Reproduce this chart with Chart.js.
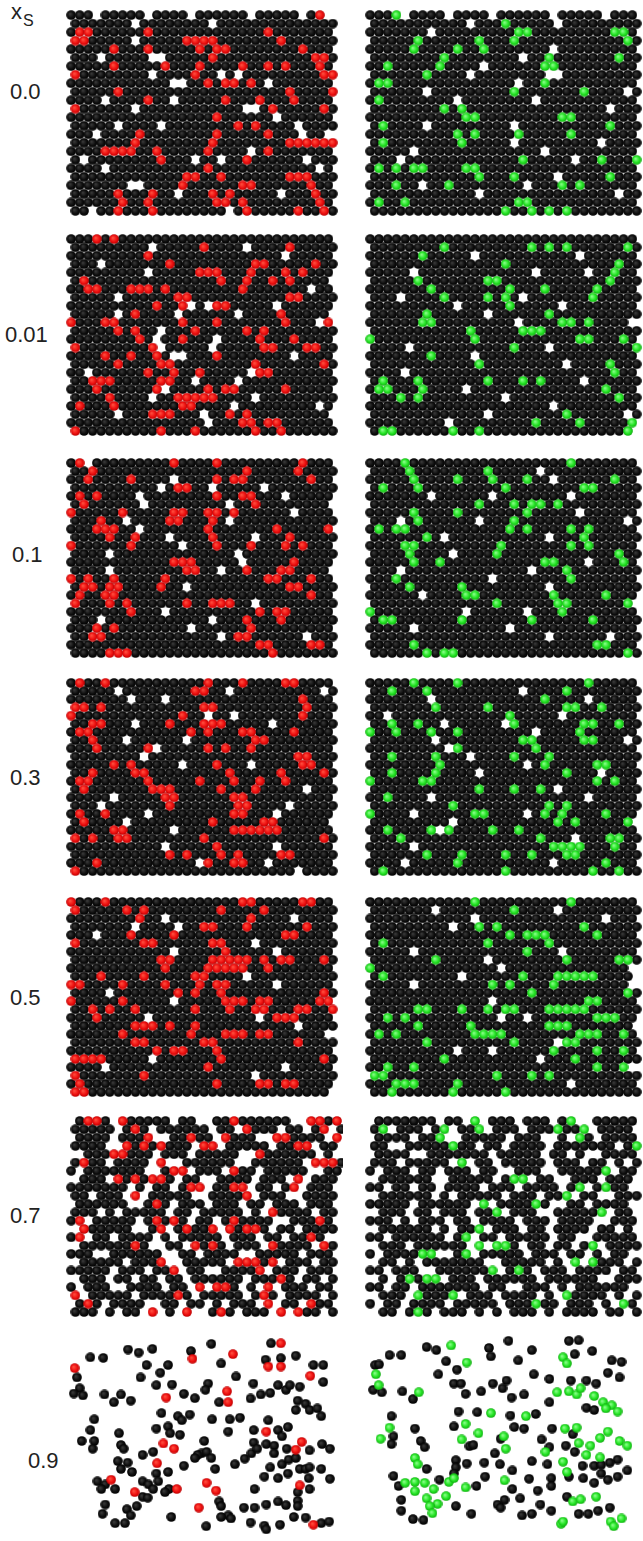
<!DOCTYPE html>
<html>
<head>
<meta charset="utf-8">
<script src="https://cdn.jsdelivr.net/npm/chart.js@4.4.1/dist/chart.umd.min.js"></script>
<style>
html, body { margin:0; padding:0; background:#fff; width:643px; height:1541px; overflow:hidden; position:relative;
  font-family:"Liberation Sans", Arial, sans-serif; }
.lbl { position:absolute; font-size:22px; line-height:22px; color:#222; white-space:nowrap; }
canvas { position:absolute; }
</style>
</head>
<body>
<script>
// ───────────────────────── DATA ─────────────────────────
// row labels (x_S values)
const rowLabels = ["0.0", "0.01", "0.1", "0.3", "0.5", "0.7", "0.9"];

// dense panels: one string per particle row, 'o' = black, 'x' = coloured, '.' = hole
const gridL0 = [
"ooo.ooooo.oooo.oooooo.ooooo.ox.",
"ooooooo.oooooooo.oooooooooooooo",
"oxxooooooxoooooooooooooxooooooo",
"xxooooo.oooooxxxxoooooooxoooooo",
"oooooxoooxoooooxoxxooooooooxooo",
"ooo.ooooo..oooooxoooooooooooxxo",
"oooooxoooooxoooxooooxooxoxoooxo",
"xoooooooo.ooooxoo.o.oooooooooxx",
"oooooooooooo..ooxoxxoxo.ooooooo",
"oooooxoooooooooooooooooooxoooox",
"oooo.ooooxoo.oooooxoooxoooxoooo",
"xoooooo.oooooooooooo..oxoooooxo",
"oooooooooooooooooxoooooo.oooooo",
"ooooo.oooo.ooooooooxoxoooo.oooo",
"ooo.ooooxooooooooxoooooxooo.oo.",
"oooooooxooooooooxooooooooxxxxxx",
"ooooxxxxooxoooooxoooo.oxooooooo",
"o.ooooooooxooo.oo.ooxoooooo.ooo",
"oooo.oooooooooooxoooooooooooo.o",
"oooooooooooooxxooxoooooooxxxooo",
"ooooooo..ooooxooooooxxooooooxoo",
"oooooxoooxoo.oooxoxooooo.oooxoo",
"ooooooxooxoooooooxxoxooooooooxo",
"oo.ooxoooxoooooooo.oxoooooxooxo"];
const gridR0 = [
"ooox.oooo.oooo.oooooo.ooooo.ooo",
"ooooooooooo.oooxooooo.ooooooooo",
"ooooooo.oooooooooxxoooooooooxxo",
"oooooxooooooxoooxooooooooooooxo",
"oooooxooooxooxooooooo.ooooooooo",
"ooooooooxoooooooo.ooxoooooooxoo",
"ooxoooooxoooo.ooooooxxooooooooo",
"ooooooxoooo.oooooooo..ooooooooo",
"oxxoooooooooooooo.ooxoooooooooo",
"oooooo.oooooooooxoooooooxoooo.o",
"oxoooooooo.oooooooo.ooooooooooo",
"ooooooooxoxoooooooooooooooo.ooo",
"oooooooooooxxoooooooooxxooooooo",
"oxoooo.ooooooooo.ooooooooooxooo",
"ooooooooooxoxooooxoooooxooooooo",
"oxooooooooxooooo.ooooooooo.oooo",
"ooooo.oooooooooooooo.oooooooooo",
"ooo.oooooooooooooxooooo.ooxooox",
"oxoxoxxooooxxoooooooooooooooooo",
"ooooooooooooxoooxoooo.oooooxooo",
"oooxoo.ooxoooooooo.oooxoxoooooo",
"oooooooooooo.ooooooooooooooo.oo",
"oxooxooooooooooooxxoooooooooooo",
"oooooooooooooooxooxoxoxoooooooo"];
const gridL1 = [
"oooxoxooooooooooooooooooooooooo",
"ooooooooo.oooooxoooo.ooooxooooo",
"oooooooooxooooooooooooooo.ooooo",
"ooo.oooooooxoooooooooxxoooooxoo",
"ooooooooo.oooooxxxoooxoooxoxooo",
"oxoooooooooooooooxooxooxoxoooo.",
"ooxxoooxxxoxooooooooxooooooo.oo",
"ooooo.ooooooxxoooooooooooxxoooo",
"ooooooooooxoox.o.xxooooo.oooooo",
"ooooo.oxoooo.oooooo.ooooxooooo.",
"xoooxxoooooooxoooxoooooooxooo.x",
"oooooxoxoo.oooxoooooxoxoooooooo",
"ooooooooxo.ooxooo.ooooxoooxoooo",
"xoooooooox.ooooo.oooooxxoooxxoo",
"ooooxooxooxo..oooxoooooooo.oooo",
"oooooxooooxxoooooooooxoooooooxo",
"oo.ooooooxooxooxooooo.xxooooooo",
"ooxxxoooooxxoo.oooo.ooooooooooo",
"oooxoooooox.ooooxoxxoooooxooooo",
"ooooxoooo.ooxxxxxoooo.ooooooooo",
"oxoooxoooooooxxoooo.ooooooooo.o",
"ooooo.oooxxxooo.ooxoxooooooooo.",
"oooooooooooooooo.oooxxoxxoooooo",
"xoooooooooxoooxooooooxooxoooooo"];
const gridR1 = [
"ooooooooooooooooooooooooooooooo",
"ooooooooxoooooooooxoxoxooooooxo",
"ooooooxooooo.ooooooooooo.oooooo",
"oooooooooooooooxooooooooooooxoo",
"ooooo.ooooooooooooo.ooooo.ooxoo",
"oooooxoooooooxxooooooooooooxooo",
"oooooooxooooooooxoooxoooooxoooo",
"ooo.ooooxooooxoxo.oooooooxooooo",
"oooooooooo.oooooxooooo.oooooooo",
"ooooooxoooooo.ooooooxoooooooooo",
"ooooooxxooooooooo.ooooxxoxoooo.",
"oooooooooooxoooooxxxooooooooooo",
"xoooooooooooxoooooooooooxxoooxo",
"oooo.oooooooooooxooo.ooooooooox",
"oooooooxoooo.oooooooooooooooooo",
"ooooooooooooxooooooooo.ooooxooo",
"oooo.oooooooooooooooooooooooxoo",
"oxoooxoooooooxoooxoxoooo.oooooo",
"oxxoooxoooo.oooooooooooooooxooo",
"oooxoxooooooooo.ooooooooooooxoo",
"ooooooooooooooooooooo.ooooooooo",
"ooooooooooooo.ooooooooxoooooo.o",
"ooooooooo.oooooooooxooooxooooox",
"oxxooooooxooxoooooooooooooooox."];
const gridL2 = [
"ox.oooooooooxooooxoooooooooxooo",
"ooxoooooooooooooooooxoooooxoooo",
"ooxooooxoooo.ooooxoxxoooooooxoo",
"oooooooooo.oxxoo.ooooo.oooooooo",
"oxoxoooo.ooooooooxooxxooo.ooooo",
"oxoooooo.ooooooooo.ooxoooooooo.",
"xoooooxoooooxxooxxoxoooooo.oooo",
"oooxoo.ooooxxoooxo.oooooooooooo",
"oooxxxoo.oooooooxoooooooxooooox",
"ooooxooxooo.ooooxoooo.oooxooooo",
"xooooooxooooo.oooxoooxoooxoxooo",
"oooo.oooooooooooooo.ooooooooooo",
"ooooooooooooxxxooooo.oooooxoooo",
"oooo.ooooooooxxoo.ooxoooxxoooo.",
"xoxooxoooooxoooooooooooxxoooxoo",
"oxxoxxooooxoo.oooooooooooxxoooo",
"oxooxxooooooooooooooooooooooxoo",
"xoooxoxooooooxooxxxoo.ooooooooo",
"oooooooxooo.ooooooooooxoxxooooo",
"ooo.oooooooooooo.oooxoooxoooooo",
"oooxoxoooooooo.ooooooxooooooooo",
"ooxxooooooooooooo.oxxoooooo.ooo",
"ooooooooooooooooooooooxxooooxxo",
"ooooxxxooooooooooooooooxooooooo"];
const gridR2 = [
"ooooxooooooooooooooooooxooooooo",
"ooooxooooooooxooooo.ooooooooooo",
"oooooxooooxoooxoooxoo.ooooooxoo",
"oxoooxoooooooooxooooooooxxooooo",
"ooooooo.oooooo.oooooooo.ooooooo",
"ooooooooooooxoooxoxxoxooooooooo",
"oooooxooooxoooooooxooooo.oooooo",
"ooo.oxoooooo.oooxoooooooooooo.o",
"oxoxxoooooooooooxoxooooxoxooooo",
"ooooooxo.ooooooooooo.oooxoooooo",
"ooooxxoooooooooxoooooooxoxooooo",
"ooooxoooo.ooooxoooooooooooooxoo",
"oooooxooxoooooooooooxxooo.oooxo",
"ooo.oooooooooooooo.oooxoooooooo",
"oooxoooooooooo.ooooooooxooooooo",
"ooooxoooooxooooooooo.oooooooooo",
"oooooo.ooooxxooooooooxoooooxooo",
"ooooooooooooooxooooooxxoooooox.",
"xoooooooooo.oooooo.oooxoooooooo",
"oxxoooooooxoooooooxooooooxooooo",
"ooooo.oooooooooo.oooooooooooooo",
"oooooooooooooooooooo.oooooo.ooo",
"oooooxooooooooooooooooooooxxooo",
"ooooooxoxxoooooooooooooooooooxo"];
const gridL3 = [
"oxooxoooooooooooxoooxooooxxoooo",
"ooooo.ooooooooxxoo.oooooooooo.o",
"ooooooo.ooo.oooooooooooooooxooo",
"xxoxoooooooooooxxooooooooooxooo",
"xooooooooooooxoo.oo.oooooooxooo",
"ooxxooo.oooxoooxxxooooo.ooooooo",
"oxxoooooooooooxoxoooxxooooxoooo",
"ooxooo.oooooo.oooooooxxoooooooo",
"oooxooooox.oooooxoxooxooooooooo",
"oooooooo.oooooooooooooooooxxooo",
"oooooxoxooooo.oooxooo.oooooxxoo",
"ooxooooxxoooooooooxoooooxooooxo",
"oxxooooooxoooooxoooxooxooxooooo",
"oxoooooooxxxoooooxoooxooooo.ooo",
"ooooo.oooooxxooooooxxoooooooooo",
"ooo.oooooooxoooooooxxoooo.ooooo",
"oxooxoooo.oooooooooxxooo.oooooo",
"oxoooo.oooooooooxoooooxxoooooo.",
"oooooxxooooo.ooooooxxxxxxoooooo",
"xoxooxxooooooooxoooooooooooooxo",
"ooooooooooo.oooooxoooooo.oooooo",
"oooooooooooxoxoooxoxooooxxooooo",
"oooxooooooooooo.xooxxoo.ooooooo",
"xooooooooooooooooooooooooo.oooo"];
const gridR3 = [
"oooooxooooxooooooooooooooxooooo",
"ooxoooxoooooooooo.ooooxoooooooo",
"ooooooo.ooooooooooooxoooo.ooooo",
"oooooooxoooooxooooooooxxooxoooo",
"oo.oooooooooooooxooooo.oooooooo",
"ooxooxoo.oooooo.xoooooooxxooxoo",
"xooxoooxooxoooooooo.ooooxoooooo",
"ooooooo.oooooooooxxoooooxxooo.o",
"ooooooooo.xooooooooxooooooooooo",
"ooxooooxooo.ooooxoooxoooooooooo",
"ooooooooxooooooooo.oxoooooxxooo",
"ooxooooxoooo.oooooooooxooo.oooo",
"xoooooxxooooooooooooooooooxoxoo",
"ooooooooooooxoooxooxo.ooooooooo",
"ooxoooo.ooooooooooooooooo.ooooo",
"oooooooooxooooooooooxoxoooooooo",
"xoooo.ooooooxxoooo.oxoxooooxooo",
"ooooooooo.oooooooooooxoxooooox.",
"ooxoooox.xooooxooxooooooooooooo",
"oooxoooooooooooooooxooo.oooxxoo",
"ooooo.oooooooooooooooxxxxoooxoo",
"ooooooxoooxooooxooxoooxxooooooo",
"oooo.oooooxoooooooooo.oooooxooo",
"oxoooooooooooooxoooooooooxooxoo"];
const gridL4 = [
"xoooxoooooooooooooooxxoooooxxoo",
"xoooooxoxooooooooxooooxoooooooo",
"ooooooooxoo.oooooooooxoooo.oooo",
"ooooooo.oooo.ooxxoooxooooooxooo",
"ooo.oooxooooxooooooooooooxxoooo",
"xoooooooxxooooooxxooo.ooooooooo",
"oooooooooooo.oooooxooooo.oooooo",
"ooooooooooxxooooxxxxxoxoxxoooxo",
"oooooooooooxooooxxxxxooxooooooo",
"oooxooooxoooooxxoooo.oooooooooo",
"xxooooxooooxoooxoxxooooo.oooooo",
"oooo.oooooooxoxooxoooooooooooxo",
"xoooooxooooo.oooooxxxoxxoooooxx",
"ooxoxooxooooooxoooxooxxoooxxoox",
"oooxooooo.oooooooooooo.oxxxoooo",
"oooooooxxxoxooxooooooooooo.oooo",
"ooooooxoooooooxoooxxxoxxoooooo.",
"oooooooxxooooooxxoooooooooxoooo",
"ooooooooooxoxxoooxooooooooooooo",
"xxxxooooo.oooooooxoooooooooooxo",
"oooo.oooooooooooxoooooooo.ooooo",
"xoooooooxoooooooooooo.ooooooooo",
"oxoooooooooooooooxooooxxoxxoooo",
"xxoooooooooooooooooooooooooooo."];
const gridR4 = [
"ooooooooooooxooooooooooxooooooo",
"ooooooo.ooooooooxoooo.ooooooooo",
"oooooooooooo.oooooooooooooo.ooo",
"ooooooooo.ooxoxoooooooooxoooooo",
"ooooooooooooooooxoxxxoooooxoooo",
"oxoooooooooooxooooooxoooooooooo",
"ooooo.ooooooooooooxooo.oooooooo",
"oooooooxooooo.ooooooooxoooooxxo",
"xoooooooooooooo.oooooooooooooo.",
"oxoooooooo.ooooooxoooxxxxxoooo.",
"ooooo.ooooooooxoxooooxoooooooo.",
"ooooooooooooooooooxooooooooooxo",
"oooooooooooooo.ooooooooooxxoooo",
"oooooxxoooxooxoxxoooxxxxxoooooo",
"ooxoxoooooooooo.oo.oooooooxxxoo",
"oooooxoooooxooooooooxxxooooooo.",
"oxoxooooooooxxxxooooooooxxxooxo",
"ooooooxoooooooooxoooo.xxooooooo",
"oooooooooo.ooo.ooooooxooooxooxo",
"ooooooooxoooooooooo.oooxooooooo",
"ooxooxooooooooooooooooooooxoox.",
"xxooooooooooooxoooxoxoooooooooo",
"oooxxxooooxoooooooooooo.ooooooo",
"ooxooooooxoooooxooooooooooooooo"];
const gridL5 = [
".oxxo.xooooo.oo..ooxoooooo..xxox",
"ooooo.oxo.oooooo.oo.xooo.oo.ox.o",
".oooo.ooox..ooxoo.xooo..xxoooo.x",
"oooo..xoxoxooo.xx.ooooo.ooxx.oo",
"..oooxxooo.ooo.ooooo..xoooooo.o",
"oxoo.oooo.x..oooooo..oooooo.xxxo",
"o.ooooooo..oxx.ooo.xoo.ooooo..oo",
".ooo.xoxoxxo.oo..oooo.ooo.x.ooo",
"ooooooo.o.oo.oxx.ooxx.oo.ox.ooo",
"oo.ooo.x.ooooo..oooox.ooo..oooo",
".oooooo..oxo.ooo.ooo.oo.ooo.ooo",
"ooo.o.ooooo.oo.ooooo.o.xoooo.oo",
"ox.ooooo.oxoxo.oo.oxoooo..oooxo",
".xooooo..ox.oxoox.xoxxo.oo.oooo",
"ox.oo.oooo.o.ooooo.ooo.oo.ooxo.",
".ooooooxo..oo.xoxo.ooo.xoooo.xo",
"ooo..oooooo..oo.oooo..ooooo.ooo",
".ooooo.ooox..ooooo.xxxox.ooo.oo",
"ooooo.ooo.oox.oo..oooox.ooo.ooo",
".ooo.oo.oo.oo.oooooo.oooxo.oo.o",
"o.ooo..oooo.oo.x.xxo.o.x.ooo.oo",
"x.ooooo.ooooxo.ooooo.oxo.oooo.o",
".oxo.oooo..oo.oo.o.ooo.x.oo.xoo",
"ooo.o.oo.x.o.x..oxo.ooo.x.xoo.o"];
const gridR5 = [
".ooooooo.oo.x.ooo.ooo.ox..ooooo",
"ox.ooo.ox.oox.ooo.oooxoox.oooo.",
".oooo.oox..ooooo.ooo..o.xo.oooo",
"oo..oooooxoo.oo.oooo.ooooooo.ox",
".oooo..ooooooo.ooooo.oo.o..oooo",
"ooo.ooooo.x.oo.ooooo.ooo.oo.o.o",
"o.ooo.oo.ooo.oo..ooo..ooooox.oo",
".oooooo..ooooo.oxx.oo..ooo.ooo",
"oo.oo.oo.oooo.ooo.oooo.ox.oxoo.",
".oooooo.o.ooooo.ooo.oox.oo..ooo",
"ooooo.oooooo.x.ooooxo..oo.oooo",
".ooo.oo.ooo.oox.ooo..ooooox.oo.",
"ooo.o.ooo.oo.oooo.ooo.oooo..ooo",
".oooooo.o.oox.ooo.oo.oooo.oo.o.",
"oo.oooooo.ox.oo.ooooo.oo..ooooo",
".ooo.oooooo.x.xxo.oo.oo.ox.oooo",
"o.ooooxx..ox.ooooo.ooo.oo.o.oo.",
".oo.o.ooooooo..ooooo.o.x.xooo.o",
"oo.ooo..oooooox.oxo.ooo.oooo.oo",
".o.oxoxx.ooo.oooooo.oooooo..ooo",
"oo.oo.ooooooo.oo..ooo.o.oooooo.",
".ooo.xooox.ooo.oooo.o.xoooo.o.o",
"o.oo.oooo.ooooo.oooxoo.ooo.o.xo",
".oo.oxo.ooo.o.o.ooo.o.oooo.oo.o"];

// sparse panels (x_S = 0.9): particle centres [x, y]
const sparseL6Red = [[172,130],[472,100],[575,85],[697,50],[665,125],[697,125],[772,155],[405,225],[560,205],[563,240],
[660,335],[750,368],[735,393],[398,373],[425,390],[382,437],[265,490],[325,530],[432,520],[508,500],[532,525],[488,580],
[745,508],[780,635]];
const sparseL6Black = [[212,95],[245,97],[308,70],[335,80],[370,68],[520,52],[468,75],[672,50],[697,98],[658,103],[735,90],
[545,115],[355,120],[410,120],[390,145],[340,160],[178,160],[185,195],[170,212],[193,218],[248,215],[272,240],[290,215],
[315,235],[380,185],[420,183],[450,213],[478,227],[512,180],[505,200],[540,240],[583,157],[627,180],[620,228],[646,215],
[670,210],[690,185],[710,200],[720,185],[745,190],[740,235],[780,120],[805,120],[805,175],[760,245],[770,265],[735,265],
[790,260],[800,285],[222,295],[212,330],[190,365],[222,365],[218,390],[285,340],[290,378],[297,390],[380,325],[410,318],
[435,285],[445,298],[415,340],[440,345],[393,275],[465,280],[522,295],[567,295],[593,290],[563,335],[628,330],[665,298],
[690,330],[715,320],[628,370],[660,375],[680,380],[700,350],[712,390],[770,395],[802,375],[822,390],[502,365],[495,405],
[372,400],[345,410],[485,410],[508,400],[450,445],[410,465],[380,470],[282,430],[307,435],[290,455],[318,465],[345,495],
[385,495],[360,505],[372,520],[345,545],[330,575],[305,585],[315,605],[275,520],[250,505],[230,495],[240,520],[250,570],
[243,600],[275,630],[300,630],[412,520],[402,530],[358,548],[418,610],[540,560],[545,575],[563,605],[603,580],[630,520],
[655,480],[690,485],[715,470],[700,440],[717,425],[735,420],[745,455],[760,455],[770,450],[800,455],[822,487],[580,440],
[605,422],[622,405],[637,390],[670,450],[680,405],[768,485],[740,530],[770,520],[690,560],[710,572],[740,558],[740,575],
[630,580],[660,570],[620,628],[655,638],[660,650],[695,635],[730,610],[760,612],[800,630],[820,625],[507,640],[545,610],
[570,615],[478,420],[530,455],[520,420]];
const sparseR6Green = [[1093,57],[1133,112],[900,150],[907,185],[1010,208],[935,322],[912,358],[1195,275],[1130,310],
[1163,340],[1120,360],[1228,350],[1233,390],[1285,285],[1000,420],[1007,440],[975,500],[1000,497],[1025,500],[1048,520],
[1000,527],[1030,550],[1058,568],[1080,543],[1038,575],[1045,598],[1087,497],[1100,485],[1130,515],[1230,492],[1380,95],
[1390,115],[1365,208],[1395,205],[1415,215],[1425,195],[1460,220],[1483,240],[1505,250],[1490,260],[1520,270],[1335,400],
[1385,325],[1415,322],[1380,432],[1390,465],[1420,372],[1450,380],[1475,355],[1495,335],[1525,365],[1545,380],[1440,410],
[1405,560],[1425,553],[1465,545],[1375,632],[1380,625],[1502,625],[1510,640],[1530,615],[1475,418]];
const sparseR6Black = [[935,88],[965,88],[898,120],[908,118],[1030,62],[1055,72],[1080,108],[1190,65],[1195,92],[1240,42],
[1265,105],[1300,72],[1395,42],[1420,40],[1410,85],[1455,75],[1505,105],[1530,110],[1495,145],[1525,160],[1108,135],
[1060,150],[1100,180],[1118,180],[1130,213],[1170,205],[1200,180],[1235,170],[1225,195],[1248,225],[1280,215],[1305,150],
[1345,165],[1440,170],[1465,180],[1400,170],[893,200],[915,208],[968,205],[995,230],[1112,270],[1160,272],[1245,283],
[1310,278],[1345,240],[1440,258],[1460,265],[940,285],[1000,325],[945,350],[940,375],[1015,365],[1025,385],[1100,318],
[1140,382],[1150,378],[1220,358],[1205,405],[1255,320],[1280,325],[1325,360],[1352,325],[1405,343],[1410,400],[1345,385],
[1387,380],[1430,445],[1460,445],[1478,442],[1520,425],[1478,470],[1432,485],[1495,490],[1520,480],[1545,460],[1030,455],
[1063,490],[1105,427],[1105,450],[1178,435],[1133,438],[1100,470],[1158,510],[1180,480],[1218,440],[1250,460],[1300,430],
[1293,487],[1350,485],[1315,525],[958,510],[945,478],[965,555],[965,590],[995,617],[1022,620],[1105,575],[1145,600],
[1212,570],[1220,580],[1250,520],[1270,550],[1275,605],[1300,600],[1322,570],[1350,510],[1390,545],[1420,600],[1445,600],
[1470,590],[1500,580],[1350,590],[1395,480],[1460,500],[1340,440],[1500,435],[1230,555]];

// ───────────────────────── LAYOUT ─────────────────────────
const panelTop    = [4, 228, 452, 672, 891, 1110, 1328];
const panelHeight = [218, 214, 212, 210, 212, 213, 212];
const labelTop    = [81, 324, 544, 767, 987, 1205, 1450];
const labelLeft   = [10, 5, 12, 10, 10, 10, 28];

// ───────────────────────── SPRITES ─────────────────────────
function sphere(inner, mid, outer) {
    const c = document.createElement("canvas");
    c.width = 10; c.height = 10;
    const g = c.getContext("2d");
    const grad = g.createRadialGradient(3.8, 3.8, 0.3, 5, 5, 5);
    grad.addColorStop(0, inner);
    grad.addColorStop(0.6, mid);
    grad.addColorStop(1, outer);
    g.fillStyle = grad;
    g.beginPath();
    g.arc(5, 5, 4.85, 0, Math.PI * 2);
    g.fill();
    return c;
}
const blackBall = sphere("#3a3a3a", "#0e0e0e", "#000");
const redBall   = sphere("#ff5040", "#ee1010", "#b80000");
const greenBall = sphere("#8cff8c", "#24e424", "#10a810");

// ───────────────────────── HELPERS ─────────────────────────
function gridPoints(rows, ch) {
    const pts = [];
    rows.forEach((r, j) => {
        for (let i = 0; i < r.length; i++) {
            if (r[i] === ch) pts.push({ x: i + (j % 2 ? 0.5 : 0), y: j });
        }
    });
    return pts;
}
const pairPoints = arr => arr.map(p => ({ x: p[0], y: p[1] }));

function addLabel(html, left, top) {
    const d = document.createElement("div");
    d.className = "lbl";
    d.style.left = left + "px";
    d.style.top = top + "px";
    d.innerHTML = html;
    document.body.appendChild(d);
}

function panel(left, top, width, height, black, colored, ball, xr, yr) {
    const cv = document.createElement("canvas");
    cv.width = width; cv.height = height;
    cv.style.left = left + "px"; cv.style.top = top + "px";
    cv.style.width = width + "px"; cv.style.height = height + "px";
    document.body.appendChild(cv);
    new Chart(cv.getContext("2d"), {
        type: "scatter",
        data: {
            datasets: [
                { data: colored, pointStyle: ball,      pointRadius: 5, clip: false },
                { data: black,   pointStyle: blackBall, pointRadius: 5, clip: false }
            ]
        },
        options: {
            responsive: false,
            animation:  false,
            events:     [],
            layout:     { padding: 0 },
            plugins: { legend: { display: false }, tooltip: { enabled: false } },
            scales: {
                x: { type: "linear", display: false, min: xr[0], max: xr[1] },
                y: { type: "linear", display: false, min: yr[0], max: yr[1], reverse: true }
            }
        }
    });
}

// ───────────────────────── BUILD ─────────────────────────
addLabel('x<span style="font-size:16px;position:relative;top:7px;left:1px">S</span>', 11, 1);
rowLabels.forEach((t, i) => addLabel(t, labelLeft[i], labelTop[i]));

const leftGrids  = [gridL0, gridL1, gridL2, gridL3, gridL4, gridL5];
const rightGrids = [gridR0, gridR1, gridR2, gridR3, gridR4, gridR5];
const gx = [-0.6, 31.0], gy = [-0.6, 23.6];

leftGrids.forEach((g, i) => {
    panel(60, panelTop[i], 283, panelHeight[i], gridPoints(g, "o"), gridPoints(g, "x"), redBall, gx, gy);
});
rightGrids.forEach((g, i) => {
    panel(359, panelTop[i], 288, panelHeight[i], gridPoints(g, "o"), gridPoints(g, "x"), greenBall, gx, gy);
});

panel(60, panelTop[6], 283, panelHeight[6], pairPoints(sparseL6Black), pairPoints(sparseL6Red), redBall, [150, 840], [20, 665]);
panel(359, panelTop[6], 288, panelHeight[6], pairPoints(sparseR6Black), pairPoints(sparseR6Green), greenBall, [872, 1580], [20, 665]);
</script>
</body>
</html>
